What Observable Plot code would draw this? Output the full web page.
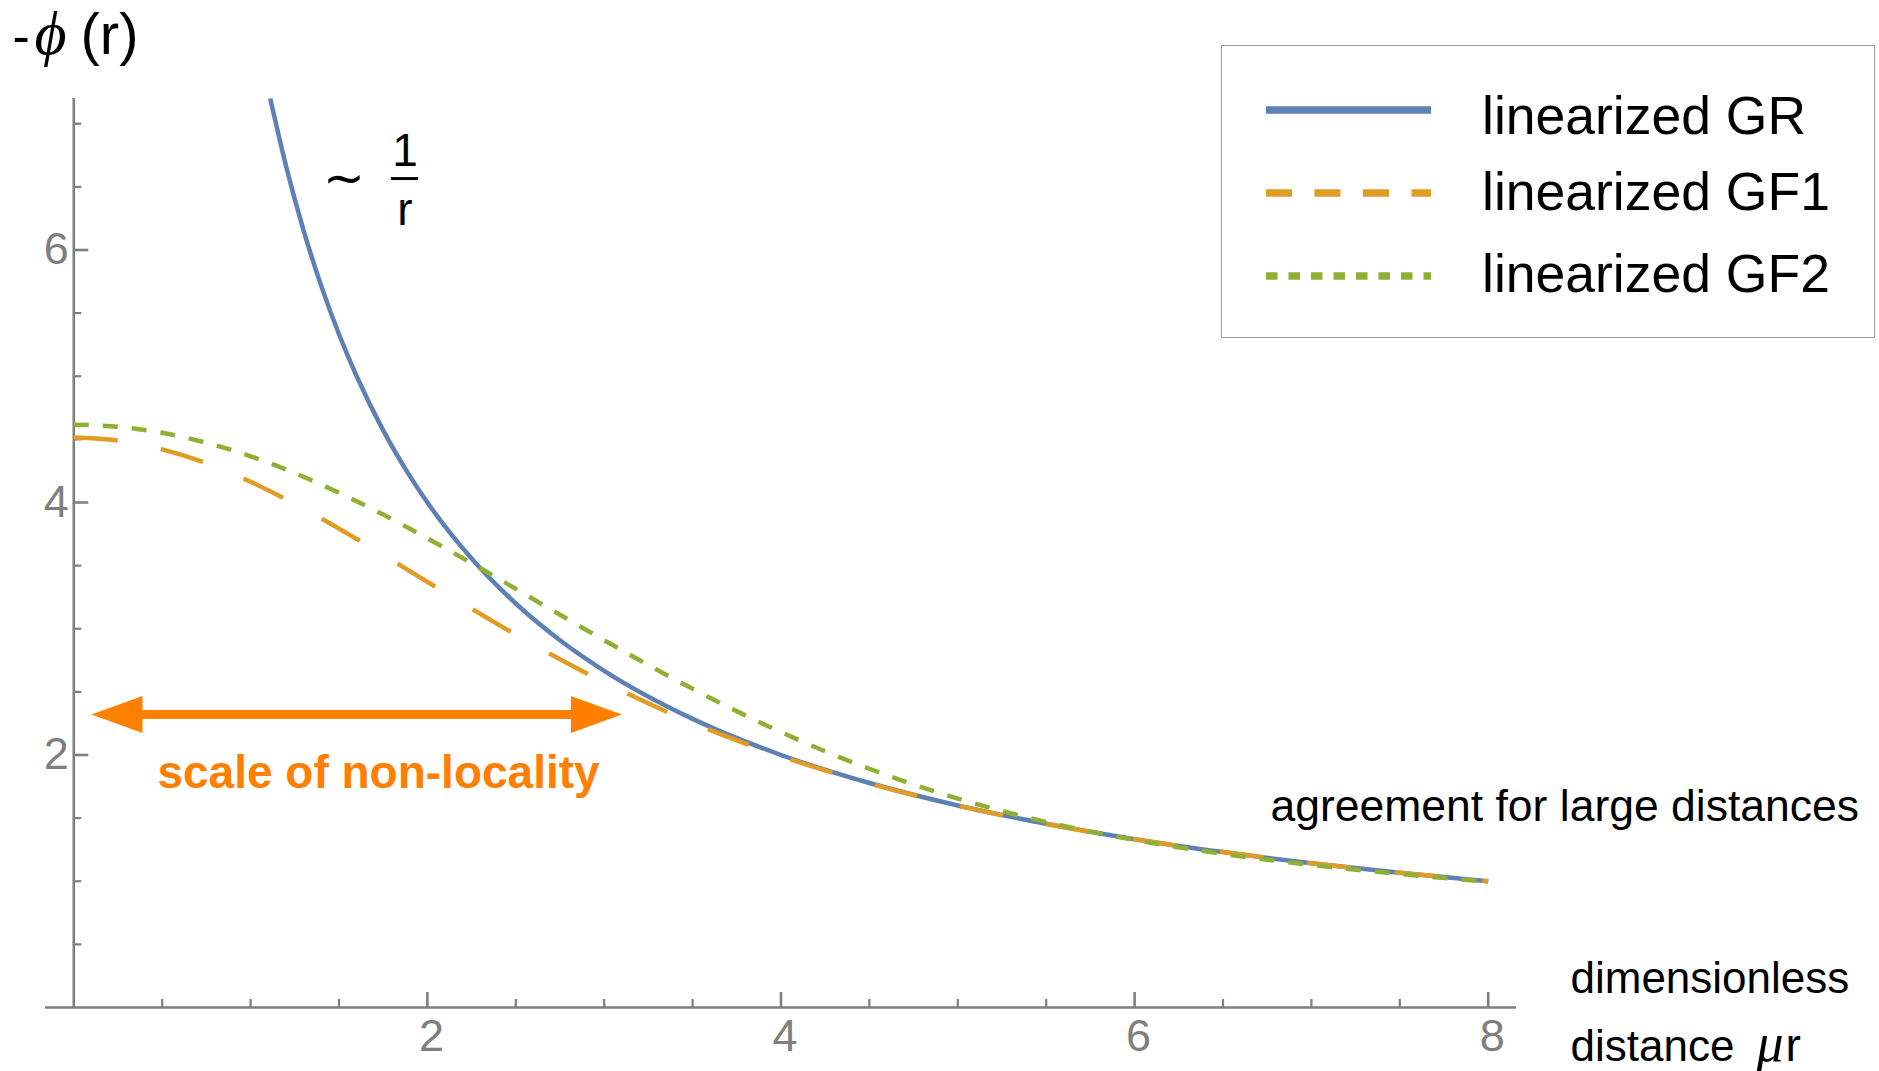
<!DOCTYPE html>
<html>
<head>
<meta charset="utf-8">
<script src="https://cdn.jsdelivr.net/npm/d3@7"></script>
<script src="https://cdn.jsdelivr.net/npm/@observablehq/plot@0.6"></script>
<style>
  body { margin: 0; background: #fff; }
  #wrap { position: relative; width: 1879px; height: 1071px; overflow: hidden; background: #fff; }
  #legend { position: absolute; left: 1221px; top: 45px; width: 654px; height: 293px; box-sizing: border-box; border: 1.5px solid #9a9a9a; background: #fff; }
</style>
</head>
<body>
<div id="wrap"></div>
<script>
// ---------------- data ----------------
const seriesNames = ["linearized GR", "linearized GF1", "linearized GF2"];

// linearized GR  (~ 1/r)
const grR = [1.111, 1.2, 1.3, 1.4, 1.5, 1.6, 1.75, 1.9, 2, 2.25, 2.5, 2.75, 3, 3.5, 4, 4.5, 5, 5.5, 6, 6.5, 7, 7.5, 8];
const grPhi = [7.2, 6.667, 6.154, 5.714, 5.333, 5.0, 4.571, 4.211, 4.0, 3.556, 3.2, 2.909, 2.667, 2.286, 2.0, 1.778, 1.6, 1.455, 1.333, 1.231, 1.143, 1.067, 1.0];

// linearized GF1
const gf1R = [0, 0.25, 0.5, 0.75, 1, 1.25, 1.5, 1.75, 2, 2.25, 2.5, 2.75, 3, 3.5, 4, 4.5, 5, 5.5, 6, 6.5, 7, 7.5, 8];
const gf1Phi = [4.514, 4.490, 4.421, 4.311, 4.164, 3.989, 3.793, 3.585, 3.371, 3.159, 2.953, 2.758, 2.576, 2.255, 1.991, 1.775, 1.599, 1.454, 1.333, 1.231, 1.143, 1.067, 1.0];

// linearized GF2
const gf2R = [0, 0.25, 0.5, 0.75, 1, 1.25, 1.5, 1.75, 2, 2.25, 2.5, 2.75, 3, 3.5, 4, 4.5, 5, 5.5, 6, 6.5, 7, 7.5, 8];
const gf2Phi = [4.616, 4.600, 4.552, 4.473, 4.366, 4.233, 4.077, 3.904, 3.716, 3.519, 3.316, 3.111, 2.909, 2.524, 2.181, 1.891, 1.655, 1.470, 1.327, 1.217, 1.129, 1.058, 0.996];

// axis ticks
const xTickLabels = [2, 4, 6, 8];
const xMinorTicks = [0.5, 1, 1.5, 2.5, 3, 3.5, 4.5, 5, 5.5, 6.5, 7, 7.5];
const yTickLabels = [2, 4, 6];
const yMinorTicks = [0.5, 1, 1.5, 2.5, 3, 3.5, 4.5, 5, 5.5, 6.5, 7];

// "scale of non-locality" double arrow (data units)
const arrowSpan = [{from: 0.1, to: 3.1, level: 2.32}];

// ---------------- layout / style ----------------
const W = 1879, H = 1071;
const mL = 45, mR = 363, mT = 98, mB = 64;
const xDom = [-0.16, 8.16], yDom = [0, 7.2];
const pxX = (W - mL - mR) / (xDom[1] - xDom[0]);
const pxY = (H - mT - mB) / (yDom[1] - yDom[0]);

const colors = ["#5E81B5", "#E19C24", "#8FB032"];
const dashes = [null, "44,44", "15,14"];
const legendDashes = [null, "26,22.5", "11.5,11"];
const gray = "#7f7f7f";
const orange = "#FF8000";
const sans = "'Liberation Sans', Arial, sans-serif";
const serif = "'Liberation Serif', 'DejaVu Serif', serif";

const toRows = (rs, vs) => rs.map((r, i) => ({r, v: vs[i]}));
const gr = toRows(grR, grPhi), gf1 = toRows(gf1R, gf1Phi), gf2 = toRows(gf2R, gf2Phi);

const headLen = 51, headHalf = 18.5;
const headRight = {draw(c) { c.moveTo(0, 0); c.lineTo(-headLen, -headHalf); c.lineTo(-headLen, headHalf); c.closePath(); }};
const headLeft  = {draw(c) { c.moveTo(0, 0); c.lineTo(headLen, -headHalf); c.lineTo(headLen, headHalf); c.closePath(); }};

const lineOpts = (i) => ({x: "r", y: "v", stroke: colors[i], strokeWidth: 4.5, curve: "monotone-x",
  strokeLinecap: "butt", strokeLinejoin: "round", strokeDasharray: dashes[i] ?? undefined});

const xr = W - mR, yb = H - mB;

const chart = Plot.plot({
  width: W, height: H,
  marginLeft: mL, marginRight: mR, marginTop: mT, marginBottom: mB,
  x: {domain: xDom, axis: null},
  y: {domain: yDom, axis: null},
  style: {fontFamily: sans, background: "transparent", overflow: "visible"},
  marks: [
    // axes
    Plot.ruleY([0], {x1: xDom[0], x2: xDom[1], stroke: gray, strokeWidth: 2.6}),
    Plot.ruleX([0], {y1: 0, y2: yDom[1], stroke: gray, strokeWidth: 2.6}),
    Plot.ruleX(xTickLabels, {x: d => d, y1: 0, y2: 15 / pxY, stroke: gray, strokeWidth: 2.6}),
    Plot.ruleX(xMinorTicks, {x: d => d, y1: 0, y2: 8 / pxY, stroke: gray, strokeWidth: 2.2}),
    Plot.ruleY(yTickLabels, {y: d => d, x1: 0, x2: 15 / pxX, stroke: gray, strokeWidth: 2.6}),
    Plot.ruleY(yMinorTicks, {y: d => d, x1: 0, x2: 8 / pxX, stroke: gray, strokeWidth: 2.2}),
    Plot.text(xTickLabels, {x: d => d, y: 0, text: d => String(d), dx: 4, dy: 29, lineAnchor: "middle", fontSize: 45, fill: gray}),
    Plot.text(yTickLabels, {x: 0, y: d => d, text: d => String(d), dx: -5, textAnchor: "end", lineAnchor: "middle", fontSize: 45, fill: gray}),

    // curves
    Plot.line(gr, lineOpts(0)),
    Plot.line(gf1, lineOpts(1)),
    Plot.line(gf2, lineOpts(2)),

    // double arrow
    Plot.ruleY(arrowSpan, {y: "level", x1: d => d.from + (headLen - 6) / pxX, x2: d => d.to - (headLen - 6) / pxX, stroke: orange, strokeWidth: 9}),
    Plot.dot(arrowSpan, {x: "to", y: "level", symbol: headRight, fill: orange, stroke: "none", r: 5}),
    Plot.dot(arrowSpan, {x: "from", y: "level", symbol: headLeft, fill: orange, stroke: "none", r: 5}),
    Plot.text(["scale of non-locality"], {x: 0.473, y: 1.74, textAnchor: "start", lineAnchor: "bottom", fontSize: 46, fontWeight: "bold", fill: orange}),

    // ~ 1/r annotation
    Plot.text(["∼"], {x: 1.528, y: 6.566, textAnchor: "middle", lineAnchor: "middle", fontSize: 50, fill: "#000"}),
    Plot.ruleY([6.566], {x1: 1.797, x2: 1.950, stroke: "#000", strokeWidth: 3}),
    Plot.text(["1"], {x: 1.873, y: 6.566, dy: -13, textAnchor: "middle", lineAnchor: "bottom", fontSize: 46, fill: "#000"}),
    Plot.text(["r"], {x: 1.873, y: 6.566, dy: 46, textAnchor: "middle", lineAnchor: "bottom", fontSize: 46, fill: "#000"}),

    // agreement
    Plot.text(["agreement for large distances"], {x: 6.768, y: 1.481, textAnchor: "start", lineAnchor: "bottom", fontSize: 44.5, fill: "#000"}),

    // x axis label
    Plot.text(["dimensionless"], {frameAnchor: "bottom-right", dx: 1570 - xr, dy: 992 - yb, textAnchor: "start", lineAnchor: "bottom", fontSize: 44, fill: "#000"}),
    Plot.text(["distance"], {frameAnchor: "bottom-right", dx: 1570 - xr, dy: 1060 - yb, textAnchor: "start", lineAnchor: "bottom", fontSize: 44, fill: "#000"}),
    Plot.text(["μ"], {frameAnchor: "bottom-right", dx: 1756 - xr, dy: 1060 - yb, textAnchor: "start", lineAnchor: "bottom", fontSize: 54, fontStyle: "italic", fontFamily: serif, fill: "#000"}),
    Plot.text(["r"], {frameAnchor: "bottom-right", dx: 1785 - xr, dy: 1060 - yb, textAnchor: "start", lineAnchor: "bottom", fontSize: 46, fill: "#000"}),

    // y axis label  -ϕ(r)
    Plot.text(["-"], {frameAnchor: "top-left", dx: 12 - mL, dy: 53 - mT, textAnchor: "start", lineAnchor: "bottom", fontSize: 52, fill: "#000"}),
    Plot.text(["ϕ"], {frameAnchor: "top-left", dx: 34 - mL, dy: 53 - mT, textAnchor: "start", lineAnchor: "bottom", fontSize: 62, fontStyle: "italic", fontFamily: serif, fill: "#000"}),
    Plot.text(["(r)"], {frameAnchor: "top-left", dx: 80 - mL, dy: 53 - mT, textAnchor: "start", lineAnchor: "bottom", fontSize: 58, fill: "#000"})
  ]
});

const wrap = document.getElementById("wrap");
wrap.appendChild(chart);

// ---------------- legend ----------------
const legend = d3.select(wrap).append("div").attr("id", "legend");
const lsvg = legend.append("svg").attr("width", 651).attr("height", 290).style("font-family", sans);
const lineYs = [64, 147, 230];
const textYs = [88, 164, 246];
seriesNames.forEach((name, i) => {
  lsvg.append("line").attr("x1", 44).attr("x2", 209).attr("y1", lineYs[i]).attr("y2", lineYs[i])
    .attr("stroke", colors[i]).attr("stroke-width", 7.5)
    .attr("stroke-dasharray", legendDashes[i]);
  lsvg.append("text").attr("x", 260).attr("y", textYs[i]).attr("font-size", 53.5).attr("fill", "#000").text(name);
});
</script>
</body>
</html>
